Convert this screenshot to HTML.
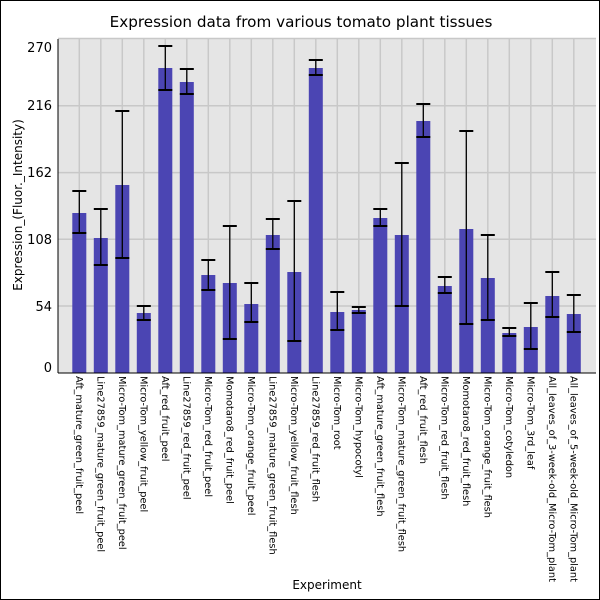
<!DOCTYPE html>
<html><head><style>body{margin:0}svg{display:block}</style></head><body>
<svg width="600" height="600" xmlns="http://www.w3.org/2000/svg" font-family="DejaVu Sans, Liberation Sans, sans-serif">
<rect x="0.5" y="0.5" width="599" height="599" fill="#fff" stroke="#000"/>
<text x="301" y="27" font-size="15.2" text-anchor="middle">Expression data from various tomato plant tissues</text>
<rect x="58" y="39" width="538" height="334" fill="#e5e5e5"/>
<g id="g" stroke="#c8c8c8" stroke-width="1.5"></g>
<g id="b"></g>
<line x1="58" y1="39" x2="58" y2="373" stroke="#000"/>
<line x1="58" y1="373" x2="596" y2="373" stroke="#000"/>
<g font-size="13" text-anchor="end">
<text x="52" y="52">270</text><text x="52" y="110">216</text><text x="52" y="177">162</text><text x="52" y="244">108</text><text x="52" y="311">54</text><text x="52" y="372">0</text>
</g>
<text transform="translate(22,205) rotate(-90)" font-size="12" text-anchor="middle">Expression_(Fluor._Intensity)</text>
<text x="327" y="589" font-size="12" text-anchor="middle">Experiment</text>
<g id="l" font-size="9.8"></g>
</svg>
<script>
const d=[[213,191,233],[238,209,265],[185,111,258],[313,306,320],[68,46,90],[82,69,94],[275,260,290],[283,226,339],[304,283,322],[235,219,249],[272,201,341],[68,60,75],[312,292,330],[310,307,313],[218,209,226],[235,163,306],[121,104,137],[286,277,293],[229,131,324],[278,235,320],[333,328,336],[327,303,349],[296,272,317],[314,295,332]];
const n=["Aft_mature_green_fruit_peel","Line27859_mature_green_fruit_peel","Micro-Tom_mature_green_fruit_peel","Micro-Tom_yellow_fruit_peel","Aft_red_fruit_peel","Line27859_red_fruit_peel","Micro-Tom_red_fruit_peel","Momotaro8_red_fruit_peel","Micro-Tom_orange_fruit_peel","Line27859_mature_green_fruit_flesh","Micro-Tom_yellow_fruit_flesh","Line27859_red_fruit_flesh","Micro-Tom_root","Micro-Tom_hypocotyl","Aft_mature_green_fruit_flesh","Micro-Tom_mature_green_fruit_flesh","Aft_red_fruit_flesh","Micro-Tom_red_fruit_flesh","Momotaro8_red_fruit_flesh","Micro-Tom_orange_fruit_flesh","Micro-Tom_cotyledon","Micro-Tom_3rd_leaf","All_leaves_of_3-week-old_Micro-Tom_plant","All_leaves_of_5-week-old_Micro-Tom_plant"];
let g='',b='',l='';
[38.5,105.7,172.6,239.3,306].forEach(y=>g+=`<line x1="58" x2="596" y1="${y}" y2="${y}"/>`);
d.forEach((v,i)=>{const c=79.3+i*21.5;
g+=`<line x1="${c}" x2="${c}" y1="39" y2="373"/>`;
b+=`<rect x="${c-7}" y="${v[0]}" width="14" height="${373-v[0]}" fill="#4b45b3"/>`;
b+=`<g stroke="#000" stroke-width="1.3"><line x1="${c}" x2="${c}" y1="${v[1]}" y2="${v[2]}"/><line x1="${c-7}" x2="${c+7}" y1="${v[1]}" y2="${v[1]}" stroke-width="2"/><line x1="${c-7}" x2="${c+7}" y1="${v[2]}" y2="${v[2]}" stroke-width="2"/></g>`;
l+=`<text transform="translate(${c-3.5},376) rotate(90)">${n[i]}</text>`;});
document.getElementById('g').innerHTML=g;document.getElementById('b').innerHTML=b;document.getElementById('l').innerHTML=l;
</script>
</body></html>
